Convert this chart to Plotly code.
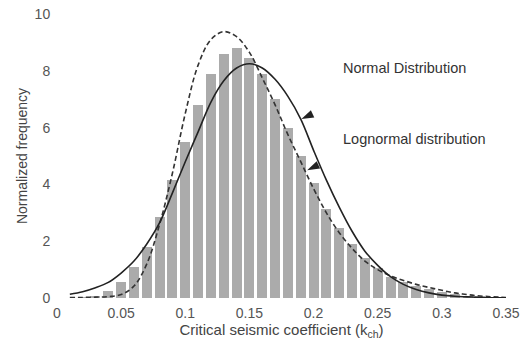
import plotly.graph_objects as go

# Histogram bins (centers) and normalized frequencies
bin_centers = [0.02, 0.03, 0.04, 0.05, 0.06, 0.07, 0.08, 0.09, 0.10, 0.11, 0.12, 0.13,
               0.14, 0.15, 0.16, 0.17, 0.18, 0.19, 0.20, 0.21, 0.22, 0.23, 0.24, 0.25,
               0.26, 0.27, 0.28, 0.29, 0.30, 0.31, 0.32, 0.33, 0.34]
bin_heights = [0.03, 0.08, 0.25, 0.55, 1.1, 1.8, 2.85, 4.15, 5.5, 6.8, 7.9, 8.6,
               8.8, 8.45, 7.9, 7.0, 6.0, 5.0, 4.05, 3.15, 2.45, 1.9, 1.4, 1.05,
               0.75, 0.55, 0.42, 0.3, 0.2, 0.13, 0.08, 0.05, 0.03]

# Fitted curves
curve_x = [0.01, 0.02, 0.03, 0.04, 0.05, 0.06, 0.07, 0.08, 0.09, 0.10, 0.11, 0.12,
           0.13, 0.14, 0.15, 0.16, 0.17, 0.18, 0.19, 0.20, 0.21, 0.22, 0.23, 0.24,
           0.25, 0.26, 0.27, 0.28, 0.29, 0.30, 0.31, 0.32, 0.33, 0.34, 0.35]
normal_y = [0.13, 0.22, 0.36, 0.55, 0.88, 1.3, 1.9, 2.65, 3.7, 4.8, 5.85, 6.9,
            7.65, 8.1, 8.25, 8.1, 7.7, 7.1, 6.3, 5.2, 4.15, 3.2, 2.35, 1.65,
            1.15, 0.75, 0.48, 0.3, 0.18, 0.1, 0.06, 0.04, 0.02, 0.01, 0.01]
lognormal_y = [0.02, 0.02, 0.03, 0.05, 0.12, 0.42, 1.2, 2.6, 4.4, 6.5, 8.2, 9.1,
               9.38, 9.2, 8.65, 7.75, 6.8, 5.75, 4.8, 3.85, 3.0, 2.3, 1.75, 1.3,
               1.0, 0.78, 0.62, 0.48, 0.37, 0.27, 0.18, 0.12, 0.07, 0.04, 0.02]

# Label pointers (arrowheads on the curves)
pointer_x = [0.1905, 0.195]
pointer_y = [6.3, 4.5]

x_ticks = [0, 0.05, 0.1, 0.15, 0.2, 0.25, 0.3, 0.35]
x_tick_text = ["0", "0.05", "0.1", "0.15", "0.2", "0.25", "0.3", "0.35"]
y_ticks = [0, 2, 4, 6, 8, 10]

FONT = "Liberation Sans, Arial, sans-serif"

fig = go.Figure()
fig.add_trace(go.Bar(x=bin_centers, y=bin_heights, width=0.0078,
                     marker=dict(color="#ababab", line=dict(width=0)),
                     showlegend=False))
fig.add_trace(go.Scatter(x=curve_x, y=lognormal_y, mode="lines",
                         line=dict(color="#333333", width=1.6, dash="5px,3px", shape="spline"),
                         showlegend=False))
fig.add_trace(go.Scatter(x=curve_x, y=normal_y, mode="lines",
                         line=dict(color="#222222", width=1.6, shape="spline"),
                         showlegend=False))
fig.add_trace(go.Scatter(x=pointer_x, y=pointer_y, mode="markers",
                         marker=dict(symbol="arrow", size=13, angle=245,
                                     color="#222222", line=dict(width=0)),
                         showlegend=False))

fig.add_annotation(x=0.221, y=8.1, xanchor="left", yanchor="middle", showarrow=False,
                   text="Normal Distribution", font=dict(family=FONT, size=14.5, color="#333333"))
fig.add_annotation(x=0.221, y=5.6, xanchor="left", yanchor="middle", showarrow=False,
                   text="Lognormal distribution", font=dict(family=FONT, size=14.5, color="#333333"))

fig.update_layout(
    width=530, height=343,
    margin=dict(l=57, r=24, t=14, b=45),
    paper_bgcolor="white", plot_bgcolor="white",
    bargap=0,
    font=dict(family=FONT, size=14, color="#444444"),
    xaxis=dict(range=[0, 0.35], tickvals=x_ticks, ticktext=x_tick_text,
               showgrid=False, zeroline=False, showline=False, automargin=False,
               ticks="outside", ticklen=2, tickcolor="white",
               tickfont=dict(size=14, color="#555555"),
               title=dict(text="Critical seismic coefficient (k<sub>ch</sub>)",
                          font=dict(size=15, color="#444444"), standoff=2)),
    yaxis=dict(range=[0, 10], tickvals=y_ticks,
               showgrid=False, zeroline=False, showline=False, automargin=False,
               ticks="outside", ticklen=3, tickcolor="white",
               tickfont=dict(size=14, color="#555555"),
               title=dict(text="Normalized frequency",
                          font=dict(size=14, color="#444444"), standoff=3)),
)

fig.write_html("out.html")
